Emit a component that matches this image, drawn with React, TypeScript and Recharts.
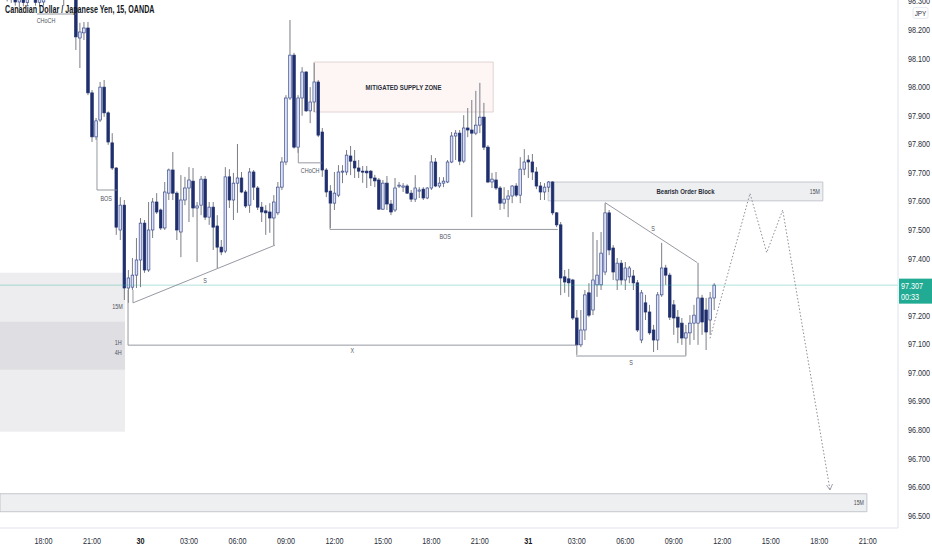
import {
  Bar,
  ComposedChart,
  ReferenceArea,
  ReferenceDot,
  ReferenceLine,
  Scatter,
  XAxis,
  YAxis,
} from "recharts";

// 15 minute bars, index 0 = 30 Oct 00:00
const firstBar = -34;

// [open, high, low, close]
const ohlc: [number, number, number, number][] = [
  [98.34, 98.36, 98.315, 98.33],
  [98.33, 98.35, 98.3, 98.325],
  [98.325, 98.34, 98.295, 98.31],
  [98.31, 98.32, 98.285, 98.298],
  [98.298, 98.318, 98.28, 98.308],
  [98.308, 98.318, 98.283, 98.296],
  [98.296, 98.33, 98.288, 98.315],
  [98.315, 98.34, 98.305, 98.33],
  [98.33, 98.34, 98.285, 98.297],
  [98.297, 98.325, 98.282, 98.31],
  [98.298, 98.33, 98.285, 98.312],
  [98.312, 98.34, 98.305, 98.33],
  [98.33, 98.36, 98.315, 98.345],
  [98.345, 98.37, 98.33, 98.355],
  [98.355, 98.37, 98.32, 98.335],
  [98.335, 98.35, 98.285, 98.325],
  [98.325, 98.345, 98.31, 98.33],
  [98.33, 98.345, 98.305, 98.31],
  [98.31, 98.32, 98.13, 98.176],
  [98.172, 98.225, 98.067, 98.193],
  [98.19, 98.228, 98.165, 98.207],
  [98.207, 98.228, 97.972, 97.98],
  [97.98, 97.99, 97.808, 97.826],
  [97.826, 97.892, 97.815, 97.882],
  [97.885, 98.018, 97.878, 98.0],
  [98.0, 98.025, 97.896, 97.91],
  [97.91, 97.915, 97.798, 97.808],
  [97.805, 97.839, 97.71, 97.717],
  [97.717, 97.72, 97.483, 97.51],
  [97.5, 97.615, 97.465, 97.587],
  [97.587, 97.605, 97.255, 97.297],
  [97.297, 97.36, 97.245, 97.332],
  [97.3, 97.402, 97.29, 97.342],
  [97.342, 97.472, 97.297, 97.395],
  [97.395, 97.542, 97.3, 97.524],
  [97.524, 97.535, 97.35, 97.36],
  [97.36, 97.598, 97.353, 97.5],
  [97.5, 97.612, 97.472, 97.598],
  [97.598, 97.629, 97.556, 97.563],
  [97.57, 97.575, 97.5, 97.507],
  [97.507, 97.668, 97.5, 97.633],
  [97.629, 97.715, 97.605, 97.71],
  [97.71, 97.773, 97.605, 97.629],
  [97.629, 97.635, 97.465, 97.5],
  [97.493, 97.692, 97.405, 97.605],
  [97.605, 97.686, 97.587, 97.647],
  [97.647, 97.72, 97.528, 97.675],
  [97.671, 97.717, 97.545, 97.577],
  [97.577, 97.598, 97.388, 97.584],
  [97.587, 97.689, 97.552, 97.678],
  [97.678, 97.689, 97.535, 97.545],
  [97.545, 97.598, 97.518, 97.58],
  [97.58, 97.598, 97.43, 97.51],
  [97.514, 97.552, 97.367, 97.44],
  [97.44, 97.465, 97.412, 97.423],
  [97.426, 97.72, 97.419, 97.686],
  [97.686, 97.713, 97.577, 97.605],
  [97.605, 97.7, 97.535, 97.664],
  [97.664, 97.801, 97.56, 97.682],
  [97.682, 97.703, 97.629, 97.633],
  [97.633, 97.64, 97.577, 97.584],
  [97.587, 97.717, 97.56, 97.703],
  [97.703, 97.71, 97.605, 97.65],
  [97.647, 97.654, 97.57, 97.58],
  [97.58, 97.598, 97.528, 97.563],
  [97.567, 97.587, 97.483, 97.56],
  [97.563, 97.594, 97.49, 97.542],
  [97.542, 97.622, 97.447, 97.598],
  [97.56, 97.668, 97.552, 97.65],
  [97.65, 97.755, 97.64, 97.738],
  [97.738, 97.972, 97.727, 97.962],
  [97.962, 98.235, 97.955, 98.112],
  [98.112, 98.12, 97.785, 97.79],
  [97.79, 97.972, 97.77, 97.962],
  [97.962, 98.07, 97.9, 98.053],
  [98.053, 98.056, 97.913, 97.917],
  [97.917, 98.0, 97.874, 97.948],
  [97.948, 98.085, 97.913, 98.018],
  [98.018, 98.025, 97.825, 97.832],
  [97.843, 97.857, 97.686, 97.71],
  [97.71, 97.717, 97.615, 97.633],
  [97.636, 97.657, 97.507, 97.594],
  [97.594, 97.703, 97.57, 97.629],
  [97.622, 97.727, 97.615, 97.703],
  [97.703, 97.727, 97.664, 97.706],
  [97.703, 97.78, 97.692, 97.762],
  [97.759, 97.794, 97.692, 97.741],
  [97.741, 97.78, 97.682, 97.717],
  [97.717, 97.745, 97.682, 97.706],
  [97.706, 97.724, 97.665, 97.703],
  [97.706, 97.724, 97.647, 97.7],
  [97.706, 97.71, 97.654, 97.682],
  [97.682, 97.693, 97.65, 97.672],
  [97.675, 97.682, 97.57, 97.573],
  [97.573, 97.675, 97.57, 97.664],
  [97.664, 97.689, 97.57, 97.591],
  [97.591, 97.605, 97.552, 97.563],
  [97.57, 97.682, 97.563, 97.647],
  [97.654, 97.668, 97.647, 97.657],
  [97.65, 97.664, 97.633, 97.654],
  [97.654, 97.66, 97.626, 97.629],
  [97.629, 97.64, 97.598, 97.608],
  [97.608, 97.692, 97.598, 97.647],
  [97.636, 97.65, 97.612, 97.64],
  [97.643, 97.65, 97.605, 97.612],
  [97.612, 97.65, 97.608, 97.647],
  [97.647, 97.762, 97.64, 97.738],
  [97.738, 97.752, 97.65, 97.654],
  [97.654, 97.685, 97.647, 97.664],
  [97.664, 97.685, 97.65, 97.671],
  [97.668, 97.745, 97.664, 97.738],
  [97.738, 97.843, 97.734, 97.829],
  [97.829, 97.85, 97.745, 97.839],
  [97.839, 97.85, 97.727, 97.741],
  [97.741, 97.902, 97.734, 97.857],
  [97.857, 97.927, 97.825, 97.85],
  [97.85, 97.955, 97.545, 97.839],
  [97.839, 97.987, 97.832, 97.867],
  [97.867, 98.015, 97.839, 97.895],
  [97.895, 97.945, 97.78, 97.79],
  [97.79, 97.797, 97.664, 97.668],
  [97.668, 97.7, 97.647, 97.678],
  [97.675, 97.703, 97.64, 97.647],
  [97.647, 97.654, 97.57, 97.594],
  [97.594, 97.65, 97.573, 97.608],
  [97.608, 97.64, 97.545, 97.619],
  [97.619, 97.657, 97.594, 97.654],
  [97.654, 97.664, 97.615, 97.622],
  [97.622, 97.755, 97.594, 97.713],
  [97.713, 97.783, 97.692, 97.738],
  [97.745, 97.762, 97.682, 97.738],
  [97.738, 97.766, 97.675, 97.703],
  [97.703, 97.72, 97.643, 97.654],
  [97.654, 97.668, 97.605, 97.633],
  [97.633, 97.664, 97.605, 97.65],
  [97.65, 97.671, 97.633, 97.668],
  [97.668, 97.671, 97.552, 97.56],
  [97.56, 97.563, 97.51, 97.518],
  [97.518, 97.528, 97.272, 97.332],
  [97.336, 97.36, 97.28, 97.318],
  [97.329, 97.364, 97.266, 97.315],
  [97.325, 97.329, 97.185, 97.192],
  [97.192, 97.22, 97.063, 97.098],
  [97.098, 97.22, 97.09, 97.15],
  [97.15, 97.29, 97.115, 97.273],
  [97.28, 97.314, 97.195, 97.202],
  [97.22, 97.493, 97.202, 97.325],
  [97.308, 97.465, 97.266, 97.342],
  [97.308, 97.493, 97.29, 97.419],
  [97.353, 97.594, 97.342, 97.56],
  [97.56, 97.57, 97.412, 97.43],
  [97.437, 97.447, 97.325, 97.353],
  [97.325, 97.402, 97.29, 97.384],
  [97.384, 97.395, 97.308, 97.325],
  [97.325, 97.388, 97.29, 97.367],
  [97.336, 97.374, 97.314, 97.367],
  [97.339, 97.36, 97.29, 97.315],
  [97.315, 97.325, 97.143, 97.15],
  [97.115, 97.29, 97.104, 97.28],
  [97.245, 97.273, 97.185, 97.213],
  [97.213, 97.238, 97.133, 97.14],
  [97.15, 97.168, 97.073, 97.115],
  [97.115, 97.283, 97.08, 97.273],
  [97.273, 97.455, 97.266, 97.367],
  [97.367, 97.378, 97.308, 97.342],
  [97.342, 97.35, 97.185, 97.195],
  [97.238, 97.255, 97.133, 97.192],
  [97.195, 97.22, 97.104, 97.16],
  [97.174, 97.192, 97.098, 97.122],
  [97.122, 97.168, 97.06, 97.14],
  [97.14, 97.202, 97.098, 97.174],
  [97.174, 97.238, 97.115, 97.202],
  [97.174, 97.385, 97.098, 97.262],
  [97.262, 97.273, 97.133, 97.178],
  [97.22, 97.262, 97.08, 97.143],
  [97.185, 97.283, 97.133, 97.262],
  [97.262, 97.314, 97.22, 97.307],
];

const timeTicks = [-24, -12, 0, 12, 24, 36, 48, 60, 72, 84, 96, 108, 120, 132, 144, 156, 168, 180];
const timeLabels = [
  "18:00", "21:00", "30", "03:00", "06:00", "09:00", "12:00", "15:00", "18:00",
  "21:00", "31", "03:00", "06:00", "09:00", "12:00", "15:00", "18:00", "21:00",
];
const priceTicks = [
  96.5, 96.6, 96.7, 96.8, 96.9, 97.0, 97.1, 97.2, 97.3, 97.4, 97.5, 97.6, 97.7,
  97.8, 97.9, 98.0, 98.1, 98.2, 98.3,
];

const lastPrice = 97.307;
const countdown = "00:33";

// projected path (dotted)
const projection = [
  { i: 140.97, p: 97.121 },
  { i: 150.87, p: 97.628 },
  { i: 155.0, p: 97.421 },
  { i: 158.96, p: 97.57 },
  { i: 170.67, p: 96.59 },
];

const zones = [
  { x1: -34.78, x2: -3.84, y1: 97.011, y2: 97.35, kind: "plain", text: "", tag: "" },
  { x1: -34.78, x2: -3.84, y1: 96.794, y2: 97.179, kind: "plain", text: "", tag: "" },
  { x1: 42.9, x2: 87.3, y1: 97.913, y2: 98.088, kind: "supply", text: "MITIGATED SUPPLY ZONE", tag: "" },
  { x1: 100.9, x2: 168.9, y1: 97.602, y2: 97.668, kind: "block", text: "Bearish Order Block", tag: "15M" },
  { x1: -34.78, x2: 179.8, y1: 96.514, y2: 96.577, kind: "block", text: "", tag: "15M" },
];

const segments: [number, number, number, number][] = [
  [-10.77, 97.826, -10.77, 97.64],
  [-10.77, 97.64, -5.82, 97.64],
  [-25.6, 98.256, -16, 98.256],
  [39.06, 97.79, 39.06, 97.735],
  [39.06, 97.735, 44.85, 97.735],
  [46.9, 97.594, 46.9, 97.502],
  [46.9, 97.502, 103.3, 97.502],
  [-3.09, 97.29, -3.09, 97.097],
  [-3.09, 97.097, 108, 97.097],
  [-1.86, 97.29, -1.86, 97.245],
  [-1.86, 97.245, 33.3, 97.447],
  [114.98, 97.596, 137.8, 97.386],
  [107.8, 97.059, 135, 97.059],
];

const notes = [
  { i: -8.5, p: 97.612, text: "BOS" },
  { i: -23.4, p: 98.235, text: "CHoCH" },
  { i: 42.0, p: 97.71, text: "CHoCH" },
  { i: 75.4, p: 97.479, text: "BOS" },
  { i: 52.4, p: 97.08, text: "X" },
  { i: 16, p: 97.325, text: "S" },
  { i: 126.9, p: 97.507, text: "S" },
  { i: 121.4, p: 97.038, text: "S" },
  { i: -5.7, p: 97.231, text: "15M" },
  { i: -5.5, p: 97.108, text: "1H" },
  { i: -5.5, p: 97.073, text: "4H" },
];

const FONT = "'Liberation Sans', Arial, sans-serif";
const BODY = 2.6;

const candles = ohlc.map(([o, h, l, c], k) => ({ i: firstBar + k, o, h, l, c, range: [l, h] }));

// condensed svg text (no narrow font installed)
function NText(props: any) {
  const { x, y, size, sx = 0.82, anchor = "start", weight = 400, fill = "#4a4d57", children } = props;
  return (
    <text
      transform={`translate(${x},${y}) scale(${sx},1)`}
      fontSize={size}
      fontFamily={FONT}
      fontWeight={weight}
      textAnchor={anchor}
      fill={fill}
    >
      {children}
    </text>
  );
}

function Candle(props: any) {
  const { x, y, width, height, payload } = props;
  if (!payload) return null;
  const { o, h, l, c } = payload;
  const top = Math.min(y, y + height);
  const span = Math.abs(height);
  const py = (p: number) => (h === l ? top : top + ((h - p) / (h - l)) * span);
  const cx = x + (width || 0) / 2;
  const up = c >= o;
  const b1 = py(Math.max(o, c));
  const b2 = py(Math.min(o, c));
  return (
    <g>
      <line x1={cx} x2={cx} y1={top} y2={top + span} stroke="#7b7e87" strokeWidth={1} />
      <rect
        x={cx - BODY / 2}
        y={b1}
        width={BODY}
        height={Math.max(1, b2 - b1)}
        fill={up ? "#dde2f4" : "#1f2f6e"}
        stroke={up ? "#3b4b8e" : "#1f2f6e"}
        strokeWidth={0.7}
      />
    </g>
  );
}

function TimeTick(props: any) {
  const { x, y, index } = props;
  const label = timeLabels[index] ?? "";
  const day = label.length <= 2;
  return (
    <NText x={x} y={y + 8} size={8.5} sx={0.85} anchor="middle" fill={day ? "#131722" : "#2a2e39"} weight={day ? 700 : 400}>
      {label}
    </NText>
  );
}

function PriceTick(props: any) {
  const { x, y, payload } = props;
  const v = Number(payload.value);
  // the live price tag covers the 97.300 label
  if (Math.abs(v - 97.3) < 1e-6) return <g />;
  return (
    <g>
      <NText x={x + 2} y={y + 3} size={8.5} sx={0.85} fill="#2a2e39">
        {v.toFixed(3)}
      </NText>
      {Math.abs(v - 98.3) < 1e-6 && (
        <g>
          <rect x={x + 7} y={y + 6} width={15} height={11} rx={2} fill="#fff" stroke="#e0e3eb" strokeWidth={0.8} />
          <NText x={x + 14.5} y={y + 14.5} size={7.5} sx={0.85} anchor="middle" fill="#2a2e39">
            JPY
          </NText>
        </g>
      )}
    </g>
  );
}

function ZoneLabel(text: string, tag: string) {
  return (props: any) => {
    const vb = props.viewBox;
    if (!vb) return null;
    const { x, y, width, height } = vb;
    return (
      <g>
        {text && (
          <NText x={x + width / 2} y={y + height / 2 + 3} size={7.5} sx={0.8} anchor="middle" fill="#2a2e39" weight={600}>
            {text}
          </NText>
        )}
        {tag && (
          <NText x={x + width - 3} y={y + height / 2 + 2.5} size={6.5} sx={0.8} anchor="end">
            {tag}
          </NText>
        )}
      </g>
    );
  };
}

function NoteLabel(text: string) {
  return (props: any) => {
    const vb = props.viewBox;
    if (!vb) return null;
    const cx = vb.x + (vb.width || 0) / 2;
    const cy = vb.y + (vb.height || 0) / 2;
    return (
      <NText x={cx} y={cy + 2.5} size={6.8} sx={0.8} anchor="middle" fill="#50535e">
        {text}
      </NText>
    );
  };
}

function PriceTag(props: any) {
  const vb = props.viewBox;
  if (!vb) return null;
  const x = vb.x + vb.width;
  const y = vb.y;
  return (
    <g>
      <rect x={x + 1} y={y - 6.5} width={33} height={25} fill="#22ab94" />
      <NText x={x + 3} y={y + 3.5} size={8.5} sx={0.85} fill="#fff">
        {lastPrice.toFixed(3)}
      </NText>
      <NText x={x + 3} y={y + 14.5} size={8.5} sx={0.85} fill="#fff">
        {countdown}
      </NText>
    </g>
  );
}

function ProjectionPoint(props: any) {
  const { cx, cy, index } = props;
  if (index !== projection.length - 1) return <g />;
  return (
    <g stroke="#8a8d96" strokeWidth={0.8} fill="none">
      <path d={`M${cx - 3.5},${cy - 5} L${cx},${cy} L${cx + 2.5},${cy - 6}`} />
    </g>
  );
}

export default function App() {
  return (
    <div style={{ position: "absolute", left: 0, top: 0, width: 932, height: 550, background: "#fff" }}>
      <ComposedChart width={932} height={550} data={candles} margin={{ top: 0, right: 0, left: 0, bottom: 0 }}>
        <XAxis
          type="number"
          dataKey="i"
          domain={[-34.78, 187.5]}
          allowDataOverflow
          ticks={timeTicks}
          interval={0}
          tick={<TimeTick />}
          tickLine={false}
          axisLine={{ stroke: "#e0e3eb" }}
          height={22}
        />
        <YAxis
          orientation="right"
          type="number"
          domain={[96.457, 98.305]}
          allowDataOverflow
          ticks={priceTicks}
          interval={0}
          tick={<PriceTick />}
          tickLine={false}
          axisLine={{ stroke: "#e0e3eb" }}
          width={34}
        />
        {zones.map((z, k) => (
          <ReferenceArea
            key={`z${k}`}
            x1={z.x1}
            x2={z.x2}
            y1={z.y1}
            y2={z.y2}
            fill={z.kind === "supply" ? "#fbe9e6" : "#b2b5be"}
            fillOpacity={z.kind === "supply" ? 0.4 : z.kind === "block" ? 0.22 : 0.24}
            stroke={z.kind === "supply" ? "#dcc9c9" : z.kind === "block" ? "#b8bbc3" : "none"}
            strokeWidth={0.8}
            label={ZoneLabel(z.text, z.tag)}
          />
        ))}
        <ReferenceLine y={lastPrice} stroke="#22ab94" strokeOpacity={0.45} strokeWidth={0.8} label={PriceTag} />
        {segments.map(([x1, y1, x2, y2], k) => (
          <ReferenceLine
            key={`s${k}`}
            segment={[{ x: x1, y: y1 }, { x: x2, y: y2 }]}
            stroke="#8a8d96"
            strokeWidth={0.9}
          />
        ))}
        <Bar dataKey="range" barSize={3} shape={Candle} isAnimationActive={false} />
        <Scatter
          data={projection}
          dataKey="p"
          line={{ stroke: "#8a8d96", strokeWidth: 1, strokeDasharray: "1.5 2" }}
          lineType="joint"
          shape={ProjectionPoint}
          isAnimationActive={false}
        />
        {notes.map((n, k) => (
          <ReferenceDot key={`n${k}`} x={n.i} y={n.p} r={0} stroke="none" fill="none" label={NoteLabel(n.text)} />
        ))}
      </ComposedChart>
      <div
        style={{
          position: "absolute",
          left: 5,
          top: 3,
          fontFamily: FONT,
          fontSize: 10.5,
          fontWeight: 700,
          color: "#131722",
          whiteSpace: "nowrap",
          transform: "scaleX(0.68)",
          transformOrigin: "left top",
        }}
      >
        Canadian Dollar / Japanese Yen, 15, OANDA
      </div>
    </div>
  );
}
